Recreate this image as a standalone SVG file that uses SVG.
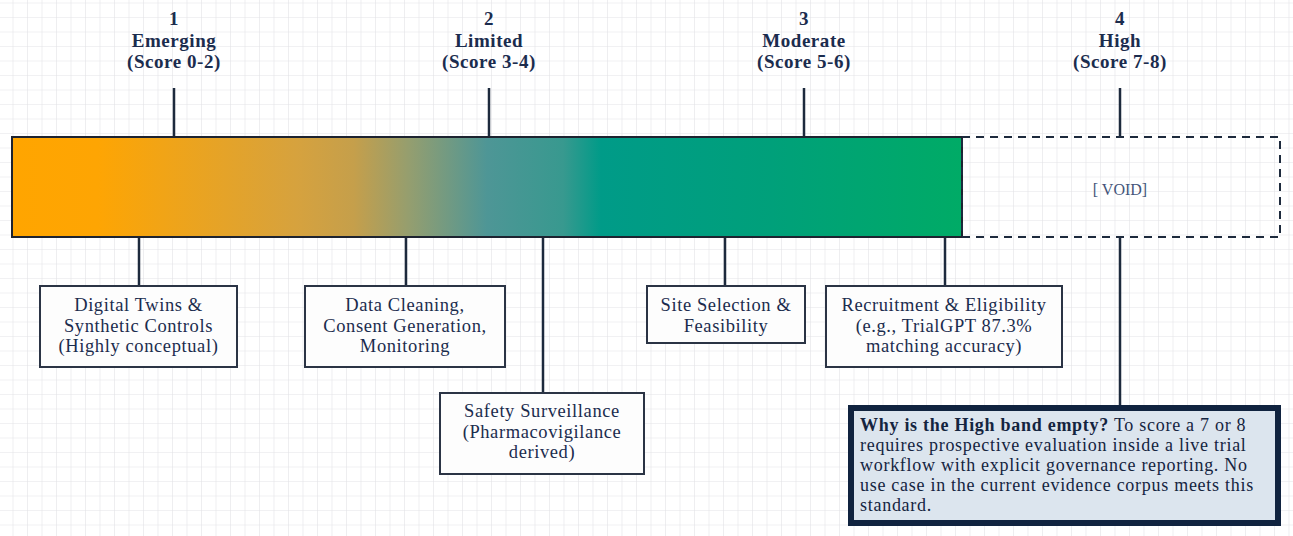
<svg xmlns="http://www.w3.org/2000/svg" width="1293" height="536" viewBox="0 0 1293 536">
  <style>
    .lvl { font-family: "Liberation Serif", "Times New Roman", serif; font-weight: bold; font-size: 19px; letter-spacing: 0.55px; fill: #1b2c4e; text-anchor: middle; }
    .box { fill: #fdfdfd; stroke: #2b3445; stroke-width: 2; }
    .bt { font-family: "Liberation Serif", "Times New Roman", serif; font-size: 18.5px; letter-spacing: 0.6px; fill: #1b2c4e; text-anchor: middle; }
    .conn { stroke: #1d2a3d; stroke-width: 2.5; fill: none; }
    .why { font-family: "Liberation Serif", "Times New Roman", serif; font-size: 18px; letter-spacing: 0.72px; fill: #14243f; }
  </style>
  <defs>
    <pattern id="grid" x="12.5" y="2.5" width="14.5" height="14.5" patternUnits="userSpaceOnUse">
      <path d="M0 0 V14.5 M0 0 H14.5" stroke="#e3e3e7" stroke-width="1.2" fill="none"/>
    </pattern>
    <linearGradient id="bandGrad" x1="0" y1="0" x2="1" y2="0">
      <stop offset="0" stop-color="#FFA500"/>
      <stop offset="0.09" stop-color="#FEA503"/>
      <stop offset="0.3" stop-color="#D6A23E"/>
      <stop offset="0.36" stop-color="#C59F4B"/>
      <stop offset="0.42" stop-color="#939E70"/>
      <stop offset="0.5" stop-color="#4E9696"/>
      <stop offset="0.58" stop-color="#38998F"/>
      <stop offset="0.62" stop-color="#009B88"/>
      <stop offset="0.8" stop-color="#00A07A"/>
      <stop offset="1" stop-color="#00AB66"/>
    </linearGradient>
  </defs>

  <rect width="1293" height="536" fill="#ffffff"/>
  <rect width="1293" height="536" fill="url(#grid)"/>

  <g id="connectors">
    <line class="conn" x1="174" y1="88" x2="174" y2="137"/>
    <line class="conn" x1="489" y1="88" x2="489" y2="137"/>
    <line class="conn" x1="804" y1="88" x2="804" y2="137"/>
    <line class="conn" x1="1120" y1="88" x2="1120" y2="137"/>
    <line class="conn" x1="139" y1="237" x2="139" y2="286"/>
    <line class="conn" x1="406" y1="237" x2="406" y2="286"/>
    <line class="conn" x1="543" y1="237" x2="543" y2="393"/>
    <line class="conn" x1="725" y1="237" x2="725" y2="286"/>
    <line class="conn" x1="945" y1="237" x2="945" y2="286"/>
    <line class="conn" x1="1120" y1="237" x2="1120" y2="405"/>
  </g>

  <g id="level-1">
    <text class="lvl" x="174" y="25">1<tspan x="174" dy="21.5">Emerging</tspan><tspan x="174" dy="21.5">(Score 0-2)</tspan></text>
  </g>
  <g id="level-2">
    <text class="lvl" x="489" y="25">2<tspan x="489" dy="21.5">Limited</tspan><tspan x="489" dy="21.5">(Score 3-4)</tspan></text>
  </g>
  <g id="level-3">
    <text class="lvl" x="804" y="25">3<tspan x="804" dy="21.5">Moderate</tspan><tspan x="804" dy="21.5">(Score 5-6)</tspan></text>
  </g>
  <g id="level-4">
    <text class="lvl" x="1120" y="25">4<tspan x="1120" dy="21.5">High</tspan><tspan x="1120" dy="21.5">(Score 7-8)</tspan></text>
  </g>

  <g id="band">
    <rect x="12" y="137" width="950" height="100" fill="url(#bandGrad)" stroke="#1d2330" stroke-width="2"/>
  </g>
  <g id="void">
    <rect x="962" y="137" width="318" height="100" fill="none" stroke="#1d2a3d" stroke-width="2" stroke-dasharray="8 6"/>
    <text x="1120" y="195" text-anchor="middle" font-family="'Liberation Serif', 'Times New Roman', serif" font-size="16" fill="#44557a">[ VOID]</text>
  </g>

  <g id="digital-twins">
    <rect class="box" x="40" y="286" width="197" height="81"/>
    <text class="bt" x="138.5" y="311">Digital Twins &amp;<tspan x="138.5" dy="20.6">Synthetic Controls</tspan><tspan x="138.5" dy="20.6">(Highly conceptual)</tspan></text>
  </g>
  <g id="data-cleaning">
    <rect class="box" x="305" y="286" width="200" height="81"/>
    <text class="bt" x="405" y="311">Data Cleaning,<tspan x="405" dy="20.6">Consent Generation,</tspan><tspan x="405" dy="20.6">Monitoring</tspan></text>
  </g>
  <g id="safety">
    <rect class="box" x="440" y="393" width="204" height="81"/>
    <text class="bt" x="542" y="417">Safety Surveillance<tspan x="542" dy="20.6">(Pharmacovigilance</tspan><tspan x="542" dy="20.6">derived)</tspan></text>
  </g>
  <g id="site-selection">
    <rect class="box" x="647" y="286" width="158" height="57"/>
    <text class="bt" x="726" y="311">Site Selection &amp;<tspan x="726" dy="21">Feasibility</tspan></text>
  </g>
  <g id="recruitment">
    <rect class="box" x="826" y="286" width="236" height="81"/>
    <text class="bt" x="944" y="311">Recruitment &amp; Eligibility<tspan x="944" dy="20.6">(e.g., TrialGPT 87.3%</tspan><tspan x="944" dy="20.6">matching accuracy)</tspan></text>
  </g>
  <g id="why-note">
    <rect x="851" y="408" width="427" height="115" fill="#dce5ee" stroke="#10233f" stroke-width="6"/>
    <text class="why" x="860" y="431"><tspan font-weight="bold">Why is the High band empty?</tspan> To score a 7 or 8<tspan x="860" dy="20">requires prospective evaluation inside a live trial</tspan><tspan x="860" dy="20">workflow with explicit governance reporting. No</tspan><tspan x="860" dy="20">use case in the current evidence corpus meets this</tspan><tspan x="860" dy="20">standard.</tspan></text>
  </g>
</svg>
